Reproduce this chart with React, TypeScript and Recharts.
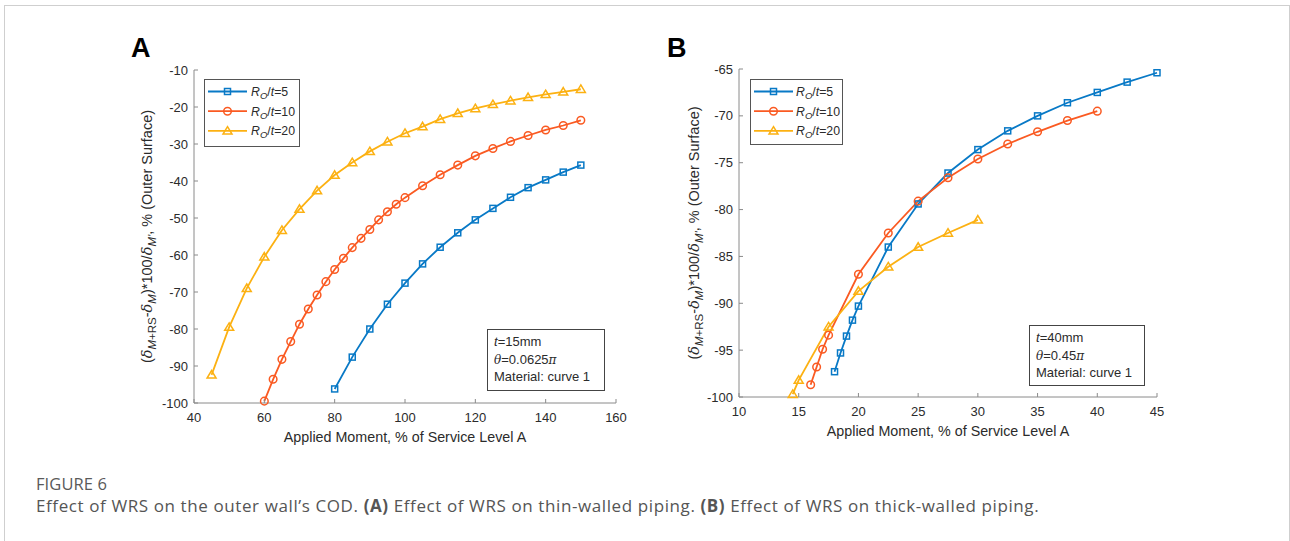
import React from 'react';
import { LineChart, Line, XAxis, YAxis } from 'recharts';

// panel A: thin-walled, t=15mm
const xA5 = [80, 85, 90, 95, 100, 105, 110, 115, 120, 125, 130, 135, 140, 145, 150];
const yA5 = [-96.2, -87.6, -80.0, -73.3, -67.6, -62.4, -57.9, -54.0, -50.5, -47.4, -44.4, -41.8, -39.7, -37.6, -35.7];
const xA10 = [60, 62.5, 65, 67.5, 70, 72.5, 75, 77.5, 80, 82.5, 85, 87.5, 90, 92.5, 95, 97.5, 100, 105, 110, 115, 120, 125, 130, 135, 140, 145, 150];
const yA10 = [-99.5, -93.6, -88.2, -83.4, -78.7, -74.6, -70.8, -67.2, -63.9, -60.9, -58.0, -55.5, -53.1, -50.5, -48.3, -46.3, -44.5, -41.3, -38.3, -35.7, -33.2, -31.2, -29.3, -27.7, -26.2, -25.0, -23.6];
const xA20 = [45, 50, 55, 60, 65, 70, 75, 80, 85, 90, 95, 100, 105, 110, 115, 120, 125, 130, 135, 140, 145, 150];
const yA20 = [-92.4, -79.5, -69.0, -60.5, -53.3, -47.6, -42.6, -38.4, -35.0, -32.0, -29.4, -27.1, -25.3, -23.3, -21.7, -20.4, -19.3, -18.3, -17.4, -16.6, -15.9, -15.2];

// panel B: thick-walled, t=40mm
const xB5 = [18, 18.5, 19, 19.5, 20, 22.5, 25, 27.5, 30, 32.5, 35, 37.5, 40, 42.5, 45];
const yB5 = [-97.3, -95.3, -93.5, -91.8, -90.3, -84.0, -79.4, -76.1, -73.6, -71.6, -70.0, -68.6, -67.5, -66.4, -65.4];
const xB10 = [16, 16.5, 17, 17.5, 20, 22.5, 25, 27.5, 30, 32.5, 35, 37.5, 40];
const yB10 = [-98.7, -96.8, -94.9, -93.4, -86.9, -82.5, -79.1, -76.6, -74.6, -73.0, -71.7, -70.5, -69.5];
const xB20 = [14.5, 15, 17.5, 20, 22.5, 25, 27.5, 30];
const yB20 = [-99.7, -98.2, -92.5, -88.7, -86.1, -84.0, -82.5, -81.1];

const ticksAX = [40, 60, 80, 100, 120, 140, 160];
const ticksAY = [-100, -90, -80, -70, -60, -50, -40, -30, -20, -10];
const ticksBX = [10, 15, 20, 25, 30, 35, 40, 45];
const ticksBY = [-100, -95, -90, -85, -80, -75, -70, -65];

const ratios = ['5', '10', '20'];

const BLUE = '#0879c6';
const ORANGE = '#fa5a22';
const YELLOW = '#fcb112';
const AXIS = '#8a8a8a';
const TEXT = '#2b2b2b';
const FONT = '"Liberation Sans", Arial, sans-serif';
const SERIF = '"DejaVu Serif", serif';

const toPts = (xs: number[], ys: number[]) => xs.map((x, i) => ({ x, y: ys[i] }));

type Shape = 'square' | 'circle' | 'triangle';

const Marker = ({ shape, cx, cy, color }: { shape: Shape; cx: number; cy: number; color: string }) => {
  if (shape === 'square')
    return <rect x={cx - 3} y={cy - 3} width={6} height={6} fill="none" stroke={color} strokeWidth={1.5} />;
  if (shape === 'circle') return <circle cx={cx} cy={cy} r={3.8} fill="none" stroke={color} strokeWidth={1.5} />;
  return (
    <polygon
      points={`${cx},${cy - 4.3} ${cx + 4.5},${cy + 3.2} ${cx - 4.5},${cy + 3.2}`}
      fill="none"
      stroke={color}
      strokeWidth={1.5}
    />
  );
};

const dotFn = (shape: Shape, color: string) => (p: any) => (
  <g key={`d-${p.index}`}>
    <Marker shape={shape} cx={p.cx} cy={p.cy} color={color} />
  </g>
);

const series: { shape: Shape; color: string }[] = [
  { shape: 'square', color: BLUE },
  { shape: 'circle', color: ORANGE },
  { shape: 'triangle', color: YELLOW },
];

const YLabel = ({ x, y }: { x: number; y: number }) => (
  <text x={x} y={y} transform={`rotate(-90 ${x} ${y})`} textAnchor="middle" fontSize={14.5} fill={TEXT} fontFamily={FONT}>
    <tspan>(</tspan>
    <tspan fontStyle="italic" fontFamily={SERIF}>δ</tspan>
    <tspan fontSize={11.5} dy={3.5}>
      <tspan fontStyle="italic">M</tspan>+RS
    </tspan>
    <tspan dy={-3.5}>-</tspan>
    <tspan fontStyle="italic" fontFamily={SERIF}>δ</tspan>
    <tspan fontSize={11.5} dy={3.5} fontStyle="italic">M</tspan>
    <tspan dy={-3.5}>)*100/</tspan>
    <tspan fontStyle="italic" fontFamily={SERIF}>δ</tspan>
    <tspan fontSize={11.5} dy={3.5} fontStyle="italic">M'</tspan>
    <tspan dy={-3.5}>, % (Outer Surface)</tspan>
  </text>
);

const LegendBox = ({ left, top, w, h, tx }: { left: number; top: number; w: number; h: number; tx: number }) => (
  <svg style={{ position: 'absolute', left, top }} width={w} height={h}>
    <rect x={0.5} y={0.5} width={w - 1} height={h - 1} fill="#fff" stroke="#555" />
    {series.map((s, i) => {
      const cy = 12.5 + i * 19.7;
      return (
        <g key={i}>
          <line x1={4} x2={43} y1={cy} y2={cy} stroke={s.color} strokeWidth={1.8} />
          <Marker shape={s.shape} cx={23.5} cy={cy} color={s.color} />
          <text x={tx} y={cy + 4.3} fontSize={12.3} fill={TEXT} fontFamily={FONT}>
            <tspan fontStyle="italic">R</tspan>
            <tspan fontStyle="italic" fontSize={9.5} dy={3}>O</tspan>
            <tspan dy={-3}>/</tspan>
            <tspan fontStyle="italic">t</tspan>
            <tspan>={ratios[i]}</tspan>
          </text>
        </g>
      );
    })}
  </svg>
);

const NoteBox = ({ left, top, w, h, t, theta }: { left: number; top: number; w: number; h: number; t: string; theta: string }) => (
  <svg style={{ position: 'absolute', left, top }} width={w} height={h}>
    <rect x={0.5} y={0.5} width={w - 1} height={h - 1} fill="#fff" stroke="#444" />
    <text x={7} y={17} fontSize={13} fill={TEXT} fontFamily={FONT}>
      <tspan fontStyle="italic">t</tspan>={t}
    </text>
    <text x={7} y={35} fontSize={13} fill={TEXT} fontFamily={FONT}>
      <tspan fontStyle="italic" fontFamily={SERIF} fontSize={12}>θ</tspan>={theta}
      <tspan fontStyle="italic" fontFamily={SERIF} fontSize={12}>π</tspan>
    </text>
    <text x={7} y={52} fontSize={13} fill={TEXT} fontFamily={FONT}>
      Material: curve 1
    </text>
  </svg>
);

const Panel = ({
  data,
  xDomain,
  yDomain,
  xTicks,
  yTicks,
  margin,
  width,
  labelDx,
}: {
  data: { x: number; y: number }[][];
  xDomain: [number, number];
  yDomain: [number, number];
  xTicks: number[];
  yTicks: number[];
  margin: { top: number; right: number; bottom: number; left: number };
  width: number;
  labelDx: number;
}) => (
  <LineChart width={width} height={460} margin={margin}>
    <XAxis
      dataKey="x"
      type="number"
      domain={xDomain}
      ticks={xTicks}
      stroke={AXIS}
      tickSize={-4}
      tickMargin={14}
      tick={{ fill: TEXT, fontSize: 13, fontFamily: FONT }}
      height={30}
      interval={0}
      label={{
        content: (p: any) => (
          <text
            x={p.viewBox.x + p.viewBox.width / 2}
            y={p.viewBox.y + 39}
            textAnchor="middle"
            fontSize={14.3}
            fill={TEXT}
            fontFamily={FONT}
          >
            Applied Moment, % of Service Level A
          </text>
        ),
      }}
    />
    <XAxis xAxisId="top" orientation="top" type="number" domain={xDomain} ticks={xTicks} stroke={AXIS} tickSize={-4} tick={false} height={0} interval={0} />
    <YAxis
      dataKey="y"
      type="number"
      domain={yDomain}
      ticks={yTicks}
      stroke={AXIS}
      tickSize={-4}
      tickMargin={10}
      width={60}
      interval={0}
      tick={{ fill: TEXT, fontSize: 13, fontFamily: FONT }}
      label={{
        content: (p: any) => <YLabel x={p.viewBox.x + labelDx} y={p.viewBox.y + p.viewBox.height / 2} />,
      }}
    />
    <YAxis yAxisId="right" orientation="right" type="number" domain={yDomain} ticks={yTicks} stroke={AXIS} tickSize={-4} tick={false} width={0} interval={0} />
    {data.map((d, i) => (
      <Line
        key={i}
        data={d}
        dataKey="y"
        type="linear"
        stroke={series[i].color}
        strokeWidth={1.8}
        dot={dotFn(series[i].shape, series[i].color)}
        activeDot={false}
        isAnimationActive={false}
      />
    ))}
  </LineChart>
);

export default function App() {
  const dataA = [toPts(xA5, yA5), toPts(xA10, yA10), toPts(xA20, yA20)];
  const dataB = [toPts(xB5, yB5), toPts(xB10, yB10), toPts(xB20, yB20)];
  return (
    <div style={{ position: 'absolute', left: 0, top: 0, width: 1290, height: 541, overflow: 'hidden', background: '#fff' }}>
      <div style={{ position: 'absolute', left: 4, top: 5, width: 1284, height: 600, border: '1px solid #cfcfcf' }} />
      <div style={{ position: 'absolute', left: 0, top: 0 }}>
        <Panel
          data={dataA}
          xDomain={[40, 160]}
          yDomain={[-100, -10]}
          xTicks={ticksAX}
          yTicks={ticksAY}
          width={660}
          margin={{ top: 70, right: 44, bottom: 27, left: 134 }}
          labelDx={18}
        />
      </div>
      <div style={{ position: 'absolute', left: 640, top: 0 }}>
        <Panel
          data={dataB}
          xDomain={[10, 45]}
          yDomain={[-100, -65]}
          xTicks={ticksBX}
          yTicks={ticksBY}
          width={560}
          margin={{ top: 69, right: 43, bottom: 33, left: 39 }}
          labelDx={20}
        />
      </div>
      <div style={{ position: 'absolute', left: 131, top: 33, fontFamily: FONT, fontWeight: 'bold', fontSize: 27, color: '#000' }}>A</div>
      <div style={{ position: 'absolute', left: 667, top: 33, fontFamily: FONT, fontWeight: 'bold', fontSize: 27, color: '#000' }}>B</div>
      <LegendBox left={204} top={79} w={96} h={68} tx={47} />
      <LegendBox left={750} top={79} w={93} h={66} tx={46} />
      <NoteBox left={487} top={329} w={118} h={62} t="15mm" theta="0.0625" />
      <NoteBox left={1029} top={325} w={116} h={61} t="40mm" theta="0.45" />
      <div style={{ position: 'absolute', left: 36, top: 472, fontFamily: '"Open Sans", sans-serif', fontSize: 16.5, color: '#5a5a5a', letterSpacing: 0.1 }}>
        FIGURE 6
      </div>
      <div style={{ position: 'absolute', left: 36, top: 494, fontFamily: '"Open Sans", sans-serif', fontSize: 17, color: '#555', whiteSpace: 'nowrap', letterSpacing: 0.6 }}>
        Effect of WRS on the outer wall’s COD. <b>(A)</b> Effect of WRS on thin-walled piping. <b>(B)</b> Effect of WRS on thick-walled piping.
      </div>
    </div>
  );
}
